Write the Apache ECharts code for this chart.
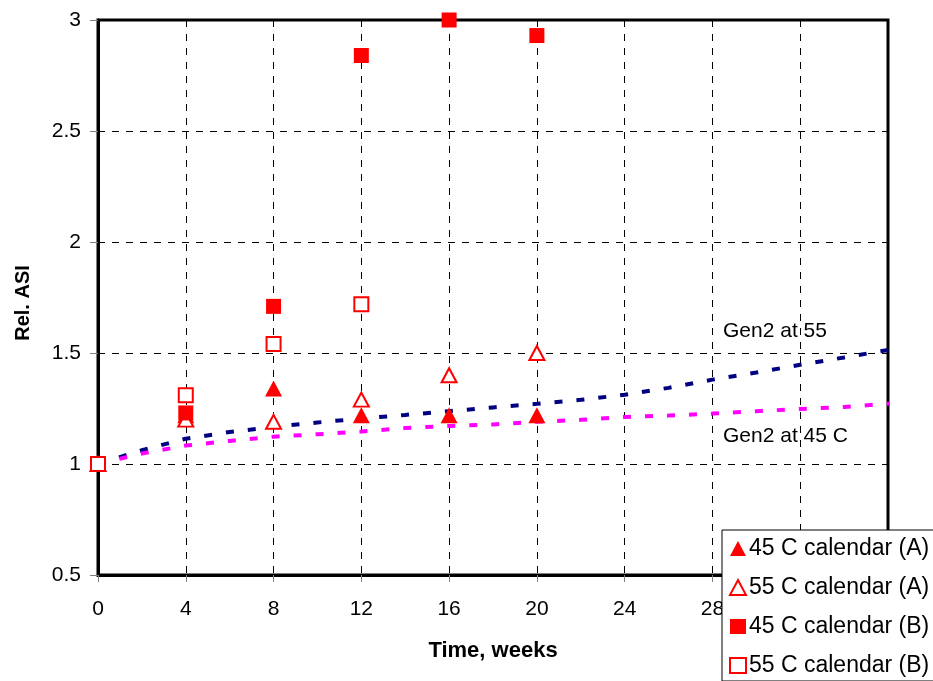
<!DOCTYPE html>
<html>
<head>
<meta charset="utf-8">
<script src="https://cdn.jsdelivr.net/npm/echarts@6/dist/echarts.min.js"></script>
<style>
  html, body { margin: 0; padding: 0; background: #fff; }
  #chart { width: 933px; height: 681px; }
</style>
</head>
<body>
<div id="chart"></div>
<script>
// Measurement times (weeks) and relative ASI values
const weeks = [0, 4, 8, 12, 16, 20];
const cal45A = [1.0, 1.22, 1.34, 1.22, 1.22, 1.22];
const cal55A = [1.0, 1.20, 1.19, 1.29, 1.40, 1.50];
const cal45B = [1.0, 1.23, 1.71, 2.84, 3.00, 2.93];
const weeksB55 = [0, 4, 8, 12];
const cal55B = [1.0, 1.31, 1.54, 1.72];

// Gen2 model curves
const gen2Weeks = [0, 2, 4, 6, 8, 10, 12, 14, 16, 18, 20, 22, 24, 26, 28, 30, 32, 34, 36.4];
const gen2At55 = [1.0, 1.062, 1.114, 1.144, 1.167, 1.187, 1.205, 1.221, 1.238, 1.255, 1.271, 1.289, 1.312, 1.343, 1.380, 1.412, 1.447, 1.480, 1.520];
const gen2At45 = [1.0, 1.047, 1.083, 1.104, 1.123, 1.134, 1.146, 1.162, 1.171, 1.178, 1.190, 1.199, 1.212, 1.218, 1.227, 1.238, 1.248, 1.257, 1.275];

const xTicks = { min: 0, max: 36, interval: 4 };
const yTicks = { min: 0.5, max: 3, interval: 0.5 };

const zip = (xs, ys) => xs.map((x, i) => [x, ys[i]]);
const FONT = 'Liberation Sans, Arial, sans-serif';
const RED = '#ff0000';

const chart = echarts.init(document.getElementById('chart'), null, { renderer: 'canvas' });

const gridLine = { show: true, lineStyle: { color: '#000', width: 1, type: [7, 7] } };

chart.setOption({
  animation: false,
  backgroundColor: '#fff',
  grid: {
    left: 98, top: 20, right: 45, bottom: 106,
    show: true, borderColor: '#000', borderWidth: 3, backgroundColor: 'transparent'
  },
  xAxis: {
    type: 'value', min: xTicks.min, max: xTicks.max, interval: xTicks.interval,
    axisLine: { show: true, onZero: false, lineStyle: { color: '#000', width: 3 } },
    axisTick: { show: true, length: 7, lineStyle: { color: '#808080', width: 1 } },
    axisLabel: { color: '#000', fontSize: 21, fontFamily: FONT, margin: 24 },
    splitLine: gridLine
  },
  yAxis: {
    type: 'value', min: yTicks.min, max: yTicks.max, interval: yTicks.interval,
    axisLine: { show: true, onZero: false, lineStyle: { color: '#000', width: 3 } },
    axisTick: { show: true, length: 8, lineStyle: { color: '#808080', width: 1 } },
    axisLabel: { color: '#000', fontSize: 21, fontFamily: FONT, margin: 17 },
    splitLine: gridLine
  },
  legend: {
    type: 'plain',
    orient: 'vertical',
    left: 722, top: 530,
    padding: [7, 10, 4, 7],
    itemWidth: 16, itemHeight: 15, itemGap: 16,
    backgroundColor: '#fff', borderColor: '#000', borderWidth: 1,
    textStyle: { color: '#000', fontSize: 23, fontFamily: FONT, padding: [0, 0, 0, -2] },
    data: [
      { name: '45 C calendar (A)', icon: 'triangle', itemStyle: { color: RED, borderWidth: 0, opacity: 1 } },
      { name: '55 C calendar (A)', icon: 'triangle', itemStyle: { color: '#fff', borderColor: RED, borderWidth: 2, opacity: 1 } },
      { name: '45 C calendar (B)', icon: 'rect', itemStyle: { color: RED, borderWidth: 0, opacity: 1 } },
      { name: '55 C calendar (B)', icon: 'rect', itemStyle: { color: '#fff', borderColor: RED, borderWidth: 2, opacity: 1 } }
    ],
    z: 20
  },
  series: [
    {
      name: 'Gen2 at 55', type: 'line', data: zip(gen2Weeks, gen2At55),
      symbol: 'none', clip: false, z: 3,
      lineStyle: { color: '#000080', width: 4, type: [8, 14] }
    },
    {
      name: 'Gen2 at 45 C', type: 'line', data: zip(gen2Weeks, gen2At45),
      symbol: 'none', clip: false, z: 3,
      lineStyle: { color: '#ff00ff', width: 4, type: [8, 14] }
    },
    {
      name: '45 C calendar (A)', type: 'scatter', data: zip(weeks, cal45A),
      symbol: 'triangle', symbolSize: [17, 16], clip: false, z: 5,
      itemStyle: { color: RED, opacity: 1 }
    },
    {
      name: '55 C calendar (A)', type: 'scatter', data: zip(weeks, cal55A),
      symbol: 'triangle', symbolSize: [15, 14], clip: false, z: 5,
      itemStyle: { color: '#fff', borderColor: RED, borderWidth: 2, opacity: 1 }
    },
    {
      name: '45 C calendar (B)', type: 'scatter', data: zip(weeks, cal45B),
      symbol: 'rect', symbolSize: 15, clip: false, z: 6,
      itemStyle: { color: RED, opacity: 1 }
    },
    {
      name: '55 C calendar (B)', type: 'scatter', data: zip(weeksB55, cal55B),
      symbol: 'rect', symbolSize: 14, clip: false, z: 6,
      itemStyle: { color: '#fff', borderColor: RED, borderWidth: 2, opacity: 1 }
    }
  ],
  graphic: [
    {
      type: 'text', x: 723, y: 331, z: 10,
      style: { text: 'Gen2 at 55', fill: '#000', fontSize: 21, fontFamily: FONT, verticalAlign: 'middle' }
    },
    {
      type: 'text', x: 723, y: 436, z: 10,
      style: { text: 'Gen2 at 45 C', fill: '#000', fontSize: 21, fontFamily: FONT, verticalAlign: 'middle' }
    },
    {
      type: 'text', x: 493, y: 651, z: 10,
      style: { text: 'Time, weeks', fill: '#000', fontSize: 22, fontWeight: 'bold', fontFamily: FONT, align: 'center', verticalAlign: 'middle' }
    },
    {
      type: 'text', x: 23, y: 303, rotation: Math.PI / 2, z: 10,
      style: { text: 'Rel. ASI', fill: '#000', fontSize: 20, fontWeight: 'bold', fontFamily: FONT, align: 'center', verticalAlign: 'middle' }
    }
  ]
});
</script>
</body>
</html>
